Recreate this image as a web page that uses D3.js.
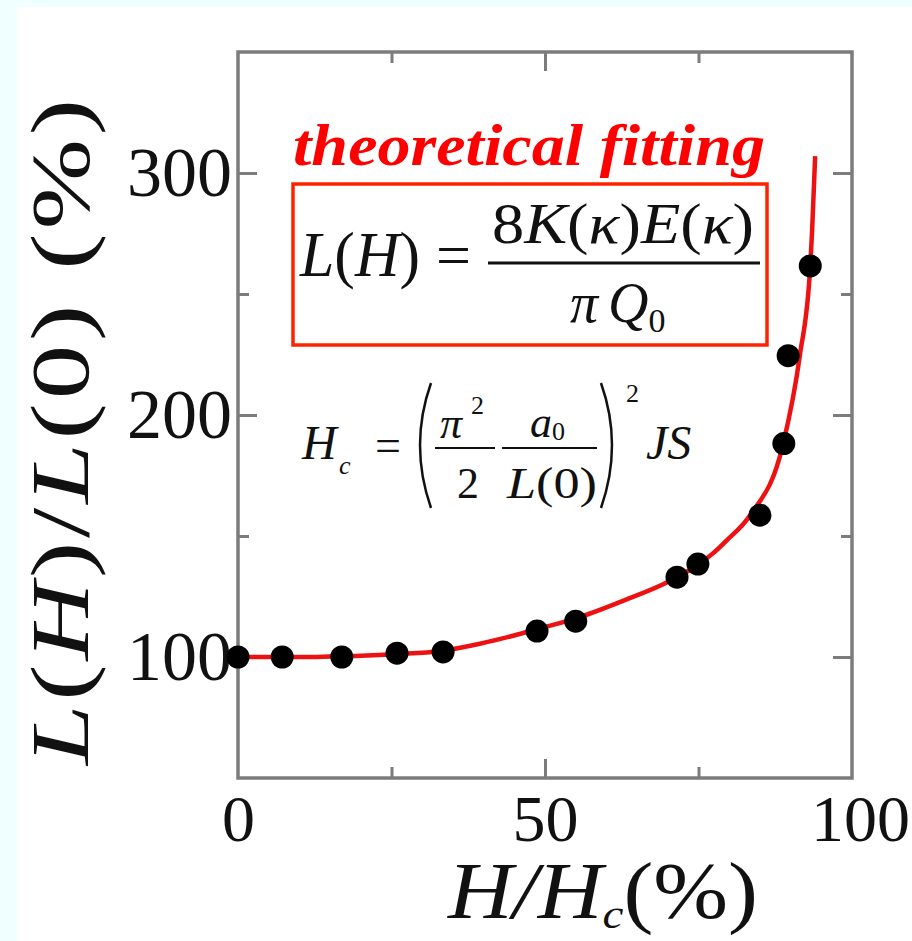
<!DOCTYPE html>
<html>
<head>
<meta charset="utf-8">
<script src="https://cdn.jsdelivr.net/npm/d3@7"></script>
<style>
  body { margin: 0; background: #f0ffff; }
  svg { display: block; }
  text { font-family: "Liberation Serif", "Times New Roman", serif; }
</style>
</head>
<body>
<div id="chart"></div>
<script>
// measured points, H/Hc (%) vs L(H)/L(0) (%)
const dotX = [0, 7.2, 16.9, 25.9, 33.4, 48.7, 55.0, 71.5, 74.9, 85.0, 88.9, 89.6, 93.2];
const dotY = [100, 100, 100, 101.6, 102.1, 110.7, 114.8, 133, 138.4, 158.6, 188.2, 224.5, 261.6];
// theoretical fitting curve
const fitX = [0, 5, 10, 15, 20, 26, 33, 39.4, 44.8, 48.7, 55.7, 63.8, 69.9, 77.4, 79.6, 83.4, 88.8, 91.5, 93.2, 93.5, 94.0];
const fitY = [100, 100, 100, 100.2, 100.5, 101.2, 102.5, 105.5, 108.8, 111.5, 116.5, 124.3, 130.9, 142.9, 148.2, 158.6, 188.2, 224.5, 261.6, 276, 307];
const xMajor = [50], xMinor = [25, 75];
const yMajor = [100, 200, 300], yMinor = [150, 250];
const xLabels = [0, 50, 100], yLabels = [100, 200, 300];

const width = 912, height = 941;
const margin = { top: 52, right: 60, bottom: 163, left: 238 };
const innerW = width - margin.left - margin.right;
const innerH = height - margin.top - margin.bottom;

const svg = d3.select("#chart").append("svg")
    .attr("width", width).attr("height", height);

// white sheet over the pale cyan page
svg.append("rect").attr("x", 17).attr("y", 7)
    .attr("width", width - 17).attr("height", height - 7).attr("fill", "#fff");

const g = svg.append("g").attr("transform", `translate(${margin.left},${margin.top})`);

const x = d3.scaleLinear().domain([0, 100]).range([0, innerW]);
const y = d3.scaleLinear().domain([50, 350]).range([innerH, 0]);

const frameCol = "#7c7c7c";

// inward ticks on all four sides
function ticks(axis, vals, size, tr) {
    const a = g.append("g").attr("transform", tr || null)
        .call(axis.tickValues(vals).tickSize(-size).tickFormat(""));
    a.select(".domain").remove();
    a.selectAll("line").attr("stroke", frameCol).attr("stroke-width", 3);
}
ticks(d3.axisBottom(x), xMajor, 19, `translate(0,${innerH})`);
ticks(d3.axisBottom(x), xMinor, 11, `translate(0,${innerH})`);
ticks(d3.axisTop(x), xMajor, 19);
ticks(d3.axisTop(x), xMinor, 11);
ticks(d3.axisLeft(y), yMajor, 19);
ticks(d3.axisLeft(y), yMinor, 11);
ticks(d3.axisRight(y), yMajor, 19, `translate(${innerW},0)`);
ticks(d3.axisRight(y), yMinor, 11, `translate(${innerW},0)`);

g.append("rect").attr("width", innerW).attr("height", innerH)
    .attr("fill", "none").attr("stroke", frameCol).attr("stroke-width", 3.5);

// tick labels
const yl = g.append("g").call(d3.axisLeft(y).tickValues(yLabels).tickSize(0).tickPadding(6));
yl.select(".domain").remove();
yl.selectAll("text").style("font-size", "70px").style("font-family", "Liberation Serif").attr("fill", "#111");

const xl = g.append("g").attr("transform", `translate(0,${innerH})`)
    .call(d3.axisBottom(x).tickValues(xLabels).tickSize(0).tickPadding(16));
xl.select(".domain").remove();
xl.selectAll("text").style("font-size", "66px").style("font-family", "Liberation Serif").attr("fill", "#111")
    .attr("dx", d => d === 100 ? 8 : 0);

// fitting curve
const fit = fitX.map((v, i) => [v, fitY[i]]);
g.append("path").datum(fit)
    .attr("fill", "none").attr("stroke", "#ee1111").attr("stroke-width", 4.5)
    .attr("d", d3.line().x(d => x(d[0])).y(d => y(d[1])).curve(d3.curveMonotoneX));

// data points
g.selectAll("circle.pt").data(dotX.map((v, i) => [v, dotY[i]])).join("circle")
    .attr("class", "pt")
    .attr("cx", d => x(d[0])).attr("cy", d => y(d[1]))
    .attr("r", 11.5).attr("fill", "#000");

// annotation title
svg.append("text").attr("x", 293).attr("y", 165)
    .attr("textLength", 472).attr("lengthAdjust", "spacingAndGlyphs")
    .style("font-size", "60px").style("font-style", "italic").style("font-weight", "bold")
    .attr("fill", "#ff0000").text("theoretical fitting");

// boxed formula
svg.append("rect").attr("x", 293).attr("y", 184).attr("width", 474).attr("height", 161)
    .attr("fill", "none").attr("stroke", "#ff2200").attr("stroke-width", 3.5);

const f1 = svg.append("g").attr("fill", "#111");
const lh = f1.append("text").attr("x", 300).attr("y", 276)
    .attr("textLength", 120).attr("lengthAdjust", "spacingAndGlyphs").style("font-size", "64px");
lh.append("tspan").style("font-style", "italic").text("L");
lh.append("tspan").text("(");
lh.append("tspan").style("font-style", "italic").text("H");
lh.append("tspan").text(")");
f1.append("text").attr("x", 436).attr("y", 276).style("font-size", "62px").text("=");
f1.append("line").attr("x1", 488).attr("x2", 760).attr("y1", 263).attr("y2", 263)
    .attr("stroke", "#111").attr("stroke-width", 3);
const num = f1.append("text").attr("x", 492).attr("y", 243)
    .attr("textLength", 262).attr("lengthAdjust", "spacingAndGlyphs").style("font-size", "56px");
num.append("tspan").text("8");
num.append("tspan").style("font-style", "italic").text("K");
num.append("tspan").text("(");
num.append("tspan").style("font-style", "italic").text("κ");
num.append("tspan").text(")");
num.append("tspan").style("font-style", "italic").text("E");
num.append("tspan").text("(");
num.append("tspan").style("font-style", "italic").text("κ");
num.append("tspan").text(")");
const den = f1.append("text").attr("x", 570).attr("y", 322).style("font-size", "56px");
den.append("tspan").style("font-style", "italic").text("π");
den.append("tspan").attr("dx", 10).style("font-style", "italic").text("Q");
den.append("tspan").attr("dy", 10).style("font-size", "34px").text("0");

// critical field formula
const f2 = svg.append("g").attr("fill", "#111");
f2.append("text").attr("x", 302).attr("y", 459).style("font-size", "48px").style("font-style", "italic").text("H");
f2.append("text").attr("x", 339).attr("y", 474).style("font-size", "26px").style("font-style", "italic").text("c");
f2.append("text").attr("x", 375).attr("y", 461).style("font-size", "46px").text("=");
f2.append("path").attr("d", "M431,383 Q409,445 431,508").attr("fill", "none").attr("stroke", "#111").attr("stroke-width", 2.5);
f2.append("path").attr("d", "M601,383 Q623,445 601,508").attr("fill", "none").attr("stroke", "#111").attr("stroke-width", 2.5);
f2.append("text").attr("x", 440).attr("y", 438).style("font-size", "44px").style("font-style", "italic").text("π");
f2.append("text").attr("x", 471).attr("y", 414).style("font-size", "26px").text("2");
f2.append("line").attr("x1", 435).attr("x2", 495).attr("y1", 448).attr("y2", 448).attr("stroke", "#111").attr("stroke-width", 2.2);
f2.append("text").attr("x", 457).attr("y", 498).style("font-size", "44px").text("2");
f2.append("line").attr("x1", 502).attr("x2", 597).attr("y1", 448).attr("y2", 448).attr("stroke", "#111").attr("stroke-width", 2.2);
f2.append("text").attr("x", 530).attr("y", 437).style("font-size", "44px").style("font-style", "italic").text("a");
f2.append("text").attr("x", 552).attr("y", 440).style("font-size", "26px").text("0");
const l0 = f2.append("text").attr("x", 507).attr("y", 498)
    .attr("textLength", 90).attr("lengthAdjust", "spacingAndGlyphs").style("font-size", "44px");
l0.append("tspan").style("font-style", "italic").text("L");
l0.append("tspan").text("(0)");
f2.append("text").attr("x", 626).attr("y", 402).style("font-size", "26px").text("2");
f2.append("text").attr("x", 646).attr("y", 459).style("font-size", "48px").style("font-style", "italic").text("JS");

// axis titles
const xt = svg.append("text").attr("x", 448).attr("y", 918)
    .attr("textLength", 310).attr("lengthAdjust", "spacingAndGlyphs")
    .style("font-size", "80px").attr("fill", "#111");
xt.append("tspan").style("font-style", "italic").text("H");
xt.append("tspan").style("font-style", "italic").text("/");
xt.append("tspan").style("font-style", "italic").text("H");
xt.append("tspan").attr("dy", 10).style("font-style", "italic").style("font-size", "42px").text("c");
xt.append("tspan").attr("dy", -10).text("(%)");

const yt = svg.append("text").attr("transform", "translate(88,765) rotate(-90)")
    .attr("textLength", 670).attr("lengthAdjust", "spacingAndGlyphs")
    .style("font-size", "82px").style("letter-spacing", "3px").attr("fill", "#111");
yt.append("tspan").style("font-style", "italic").text("L");
yt.append("tspan").text("(");
yt.append("tspan").style("font-style", "italic").text("H");
yt.append("tspan").text(")/");
yt.append("tspan").style("font-style", "italic").text("L");
yt.append("tspan").text("(0) (%)");
</script>
</body>
</html>
